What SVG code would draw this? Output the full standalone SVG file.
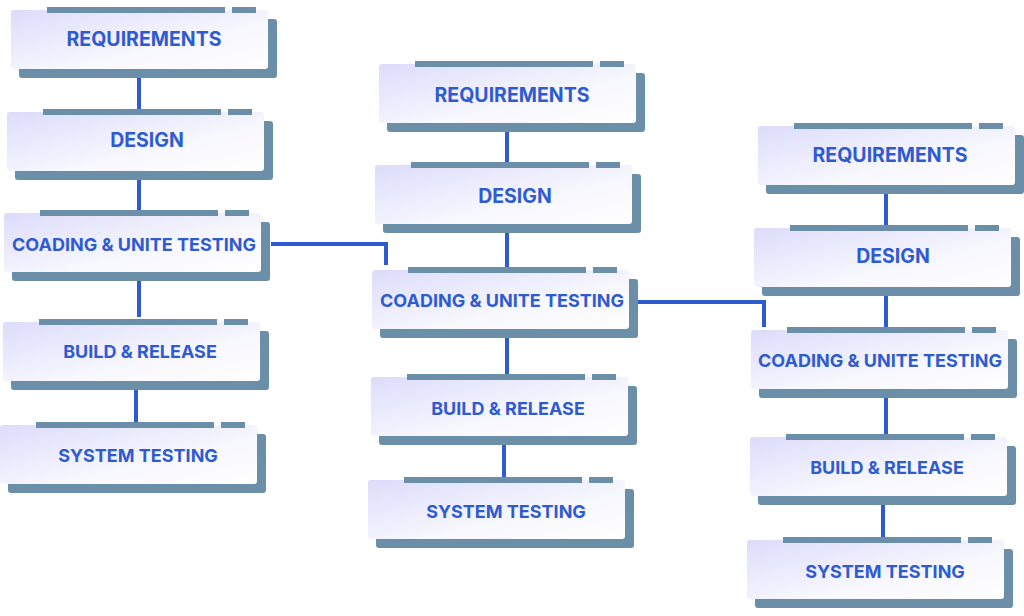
<svg xmlns="http://www.w3.org/2000/svg" xmlns:xlink="http://www.w3.org/1999/xlink" width="1024" height="616" viewBox="0 0 1024 616">
<style>
.sh{fill:#6b8fa8}
.fr{fill:url(#g)}
.t{font-family:Inter,"Open Sans","Liberation Sans",sans-serif;font-weight:700;font-size:19.5px;fill:#2f5bd0;text-anchor:middle;dominant-baseline:central}
.s{font-size:18px}
.c{fill:none;stroke:#2f5bd0;stroke-width:4}
</style>
<defs>
<linearGradient id="g" x1="0" y1="0" x2="1" y2="1"><stop offset="0" stop-color="#dcdcfb"/><stop offset="0.6" stop-color="#f7f7fe"/><stop offset="1" stop-color="#ffffff"/></linearGradient>
<g id="box">
<rect class="sh" x="8" y="9" width="258" height="59" rx="3"/>
<rect class="fr" x="0" y="0" width="257" height="59" rx="3"/>
<rect class="sh" x="36" y="-3" width="178" height="6"/>
<rect class="sh" x="221" y="-3" width="24" height="6"/>
</g>
</defs>
<g id="connectors">
<path class="c" d="M139 75V109M139 175V210M139 278V317M136 385V422"/>
<path class="c" d="M507 130V162M507 230V267M507 335V374M504 440V477"/>
<path class="c" d="M886 190V225M886 292V327M886 395V434M883 500V537"/>
<path class="c" d="M271 244H386V265M638 302H764V327"/>
</g>
<g id="c1-req"><use href="#box" x="11" y="10"/><text class="t" x="144" y="39">REQUIREMENTS</text></g>
<g id="c1-design"><use href="#box" x="7" y="112"/><text class="t" x="147" y="140">DESIGN</text></g>
<g id="c1-coding"><use href="#box" x="4" y="213"/><text class="t s" x="134" y="244">COADING &amp; UNITE TESTING</text></g>
<g id="c1-build"><use href="#box" x="3" y="322"/><text class="t s" x="140" y="351">BUILD &amp; RELEASE</text></g>
<g id="c1-system"><use href="#box" x="0" y="425"/><text class="t s" x="138" y="455">SYSTEM TESTING</text></g>
<g id="c2-req"><use href="#box" x="379" y="64"/><text class="t" x="512" y="95">REQUIREMENTS</text></g>
<g id="c2-design"><use href="#box" x="375" y="165"/><text class="t" x="515" y="196">DESIGN</text></g>
<g id="c2-coding"><use href="#box" x="372" y="270"/><text class="t s" x="502" y="300">COADING &amp; UNITE TESTING</text></g>
<g id="c2-build"><use href="#box" x="371" y="377"/><text class="t s" x="508" y="408">BUILD &amp; RELEASE</text></g>
<g id="c2-system"><use href="#box" x="368" y="480"/><text class="t s" x="506" y="511">SYSTEM TESTING</text></g>
<g id="c3-req"><use href="#box" x="758" y="126"/><text class="t" x="890" y="155">REQUIREMENTS</text></g>
<g id="c3-design"><use href="#box" x="754" y="228"/><text class="t" x="893" y="256">DESIGN</text></g>
<g id="c3-coding"><use href="#box" x="751" y="330"/><text class="t s" x="880" y="360">COADING &amp; UNITE TESTING</text></g>
<g id="c3-build"><use href="#box" x="750" y="437"/><text class="t s" x="887" y="467">BUILD &amp; RELEASE</text></g>
<g id="c3-system"><use href="#box" x="747" y="540"/><text class="t s" x="885" y="571">SYSTEM TESTING</text></g>
</svg>
